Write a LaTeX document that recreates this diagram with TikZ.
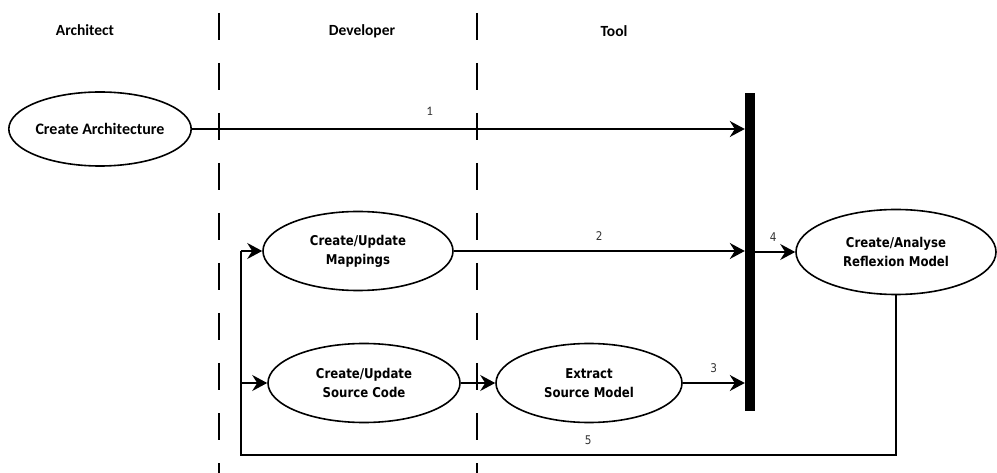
\documentclass[tikz,border=0pt]{standalone}
\usepackage{fontspec}
\setmainfont{DejaVu Sans}
\newfontfamily\lanefont{Carlito}
\newfontfamily\actfont[FakeStretch=0.87]{DejaVu Sans}
\usetikzlibrary{arrows.meta,shapes.geometric}
\begin{document}
\begin{tikzpicture}[x=1pt,y=-1pt,
  lane/.style={font=\lanefont\bfseries\fontsize{15.5}{18}\selectfont},
  activity/.style={draw,ellipse,line width=1.6pt,inner sep=0pt,align=center,
    font=\actfont\bfseries\fontsize{13.5}{19}\selectfont},
  flow/.style={line width=1.6pt,-{Stealth[length=15pt,width=16pt,inset=5pt]}},
  plain/.style={line width=1.6pt},
  num/.style={font=\actfont\fontsize{12}{14}\selectfont,text=black!80},
  swim/.style={line width=1.6pt,dash pattern=on 27pt off 23pt}]
\useasboundingbox (0,0) rectangle (997,473);

% swimlane separators
\draw[swim] (219,13) -- (219,473);
\draw[swim] (477,13) -- (477,473);

% lane titles
\node[lane] (architect) at (85,30) {Architect};
\node[lane] (developer) at (362,31) {Developer};
\node[lane] (tool) at (614,31) {Tool};

% activities
\node[activity,minimum width=180pt,minimum height=74pt,
      font=\lanefont\bfseries\fontsize{16}{18}\selectfont] (arch) at (100,129) {Create Architecture};
\node[activity,minimum width=190pt,minimum height=79pt] (map) at (358,251) {Create/Update\\Mappings};
\node[activity,minimum width=192pt,minimum height=79pt] (src) at (364,383) {Create/Update\\Source Code};
\node[activity,minimum width=186pt,minimum height=79pt] (extract) at (589,383) {Extract\\Source Model};
\node[activity,minimum width=200pt,minimum height=85pt] (refl) at (896,252) {Create/Analyse\\Reflexion Model};

% synchronisation bar
\node[fill=black,minimum width=10pt,minimum height=318pt,inner sep=0pt] (bar) at (750,252) {};

% flows into the bar
\draw[flow] (arch.east) -- (arch.east -| bar.west)
  node[num,font=\lanefont\fontsize{13}{15}\selectfont,pos=0.43,above=9pt] {1};
\draw[flow] (map.east) -- (map.east -| bar.west) node[num,midway,above=6pt] {2};
\draw[flow] (extract.east) -- (extract.east -| bar.west) node[num,midway,above=6pt] {3};
\draw[flow] (src.east) -- (extract.west);
\draw[flow] (bar.east |- refl.west) -- (refl.west) node[num,pos=0.45,above=6pt] {4};

% feedback loop
\coordinate (down) at (refl.south |- 0,455);
\coordinate (corner) at (241,455);
\coordinate (branch) at (241,383);
\coordinate (top) at (241,251);
\draw[plain] (refl.south) -- (down) -- (corner) node[num,pos=0.47,above=6pt] {5} -- (top);
\draw[flow] (top) -- (map.west);
\draw[flow] (branch) -- (src.west);
\end{tikzpicture}
\end{document}
